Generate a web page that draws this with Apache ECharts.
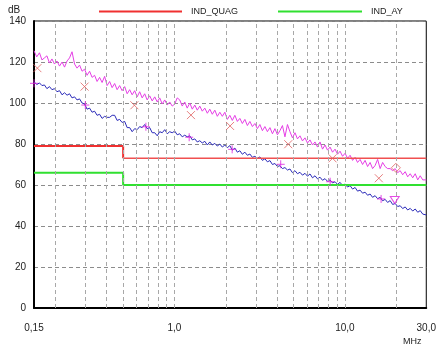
<!DOCTYPE html>
<html>
<head>
<meta charset="utf-8">
<script src="https://cdn.jsdelivr.net/npm/echarts@6/dist/echarts.min.js"></script>
<style>
  html, body { margin: 0; padding: 0; background: #fff; }
  #main { width: 439px; height: 345px; }
</style>
</head>
<body>
<div id="main"></div>
<script>
// sweep frequencies in MHz
const freqs = [
  0.15, 0.1556, 0.1615, 0.167, 0.1727, 0.1786, 0.1849, 0.1912, 0.1978, 0.2046,
  0.2118, 0.2191, 0.2266, 0.2344, 0.2424, 0.2507, 0.2594, 0.2683, 0.2776, 0.2871,
  0.297, 0.3072, 0.3178, 0.3287, 0.34, 0.3517, 0.3638, 0.3763, 0.3893, 0.4027,
  0.4166, 0.4309, 0.4457, 0.461, 0.4769, 0.4933, 0.5104, 0.5279, 0.5461, 0.5648,
  0.5843, 0.6043, 0.6252, 0.6466, 0.669, 0.6919, 0.7158, 0.7404, 0.766, 0.7923,
  0.8196, 0.8477, 0.877, 0.9071, 0.938, 0.9702, 1.004, 1.038, 1.074, 1.111,
  1.149, 1.188, 1.23, 1.272, 1.316, 1.361, 1.408, 1.456, 1.507, 1.559,
  1.612, 1.667, 1.725, 1.784, 1.846, 1.909, 1.975, 2.043, 2.113, 2.185,
  2.261, 2.339, 2.419, 2.502, 2.589, 2.678, 2.77, 2.865, 2.964, 3.066,
  3.171, 3.28, 3.393, 3.509, 3.631, 3.756, 3.885, 4.018, 4.157, 4.3,
  4.448, 4.601, 4.759, 4.922, 5.093, 5.268, 5.449, 5.636, 5.831, 6.031,
  6.239, 6.453, 6.676, 6.905, 7.143, 7.388, 7.643, 7.905, 8.178, 8.458,
  8.751, 9.051, 9.363, 9.684, 10.02, 10.36, 10.72, 11.09, 11.47, 11.86,
  12.27, 12.69, 13.13, 13.58, 14.05, 14.53, 15.03, 15.55, 16.09, 16.64,
  17.21, 17.8, 18.42, 19.05, 19.71, 20.39, 21.09, 21.81, 22.57, 23.34,
  24.15, 24.98, 25.84, 26.73, 27.65, 28.6, 30.0
];

// peak trace (magenta), dB
const peakVals = [
  125.5, 122.5, 124.5, 121, 122, 123, 119.5, 121.5, 119, 120.5,
  118, 120, 117.5, 120.5, 122, 125, 119, 117, 118.5, 115.5,
  116.5, 113.5, 115.5, 112.5, 113.5, 110.5, 112.5, 110, 113, 108.5,
  110.5, 107.5, 109.5, 106.5, 108.5, 106, 108, 104.5, 106.5, 104,
  106, 103, 105.5, 102.5, 104.5, 101.5, 103.5, 101, 103, 100.5,
  102.5, 99.5, 101.5, 99, 100.5, 98.5, 99.5, 102.5, 101.5, 98.5,
  100.5, 97.5, 100, 97, 99, 96.5, 98.5, 96, 97.5, 95,
  97, 94.5, 96.5, 93.5, 95.5, 93.5, 95.5, 92, 94, 91.5,
  94, 91, 92.5, 90, 92, 89, 91, 88.5, 90, 87.5,
  89.5, 86.5, 88.5, 86, 88, 85, 87.5, 84.5, 86.5, 89,
  83.5, 89.5, 86, 83, 85.5, 82.5, 84, 81.5, 83, 80.5,
  82, 79.5, 81, 78.5, 81, 77.5, 79.5, 77, 78.5, 76,
  77.5, 75, 76.5, 74, 75.5, 73, 74.5, 72, 73.5, 71,
  72.5, 70, 72, 69, 71, 68, 69.5, 72.5, 68, 71,
  69, 68, 68, 67, 68, 66, 67, 65, 66.5, 64,
  65.5, 63.5, 65.5, 62.5, 64.5, 62.5, 62.5
];

// average trace (blue), dB
const avgVals = [
  110.4, 109, 109.8, 108.5, 108.8, 107, 108, 106.5, 107, 105.5,
  106, 104, 105, 103.8, 104.5, 102.5, 103, 101.5, 102, 100,
  99.5, 97, 97.5, 95.5, 96, 94, 94.5, 92.5, 93.5, 93,
  93, 94, 94, 91.5, 92, 90.5, 91, 88, 88, 86,
  87.5, 87, 88.5, 88, 89.5, 87.5, 88, 85.5, 85.5, 84,
  86, 85.5, 87, 85, 86, 85.5, 86.3, 84.5, 85, 83.5,
  84.3, 83.5, 84, 82, 82.5, 81, 81.6, 80.5, 81.3, 79.5,
  81, 79.5, 80.3, 79, 80, 78.5, 79.5, 78.2, 79.2, 77,
  78, 76, 76.7, 75, 76, 74.5, 75.1, 73.5, 74, 73,
  73.7, 72, 72.8, 71.3, 71.9, 70, 70.5, 69, 69.4, 68,
  68.5, 67.3, 67.8, 66, 67, 65.5, 66.2, 64.8, 65.7, 64.3,
  65.4, 63.5, 64.5, 63, 63.8, 62.3, 63.1, 61.8, 62.5, 61,
  61.6, 60.3, 61.3, 59.7, 60.5, 59, 59.7, 58, 58.8, 57,
  57.5, 56, 56.5, 55, 55.6, 54, 54.8, 53.3, 54, 52.3,
  53, 51.5, 52.4, 50.5, 51, 49.5, 49.9, 48.5, 49.3, 47.8,
  48.6, 47.3, 48.3, 46.7, 47.5, 45.8, 45.4
];

// limit lines
const quagFreqsA = [0.15, 0.5, 0.5];
const quagLimitA = [79, 79, 73];
const quagFreqsB = [0.5, 30];
const quagLimitB = [73, 73];
const ayFreqs = [0.15, 0.5, 0.5, 30];
const ayLimit = [66, 66, 60, 60];

// final measurements
const qpFreqs = [0.157, 0.297, 0.582, 1.25, 2.12, 4.65, 8.46, 15.8];
const qpVals = [117, 108, 98.9, 94.1, 88.8, 79.9, 73.0, 63.3];
const qpDiamond = [[19.9, 68.4]];
const avFreqs = [0.15, 0.3, 0.68, 1.22, 2.18, 4.2, 8.19, 16.3];
const avVals = [109.6, 99, 88.4, 83.3, 77.4, 70.1, 61.6, 53.2];
const avTriangle = [[19.6, 52.7]];

// vertical grid lines
const gridFreqs = [0.2, 0.3, 0.4, 0.5, 0.6, 0.7, 0.8, 0.9, 1, 2, 3, 4, 5, 6, 7, 8, 9, 10, 20];

const zip = (xs, ys) => xs.map((x, i) => [x, ys[i]]);
const font = 'Liberation Sans';

var chartDom = document.getElementById('main');
var myChart = echarts.init(chartDom);

var option = {
  animation: false,
  textStyle: { fontFamily: font },
  title: [
    { text: 'dB', left: 3, top: 0, textStyle: { fontSize: 10, fontWeight: 'normal', color: '#222', fontFamily: font } },
    { text: 'MHz', left: 398, top: 332, textStyle: { fontSize: 9, fontWeight: 'normal', color: '#222', fontFamily: font } }
  ],
  legend: [
    {
      data: ['IND_QUAG'], left: 94, top: 2, icon: 'rect', itemWidth: 83, itemHeight: 2,
      textStyle: { fontSize: 9, color: '#222', padding: [0, 0, 0, 4] }
    },
    {
      data: ['IND_AY'], left: 273, top: 2, icon: 'rect', itemWidth: 84, itemHeight: 2,
      textStyle: { fontSize: 9, color: '#222', padding: [0, 0, 0, 4] }
    }
  ],
  grid: {
    left: 34, right: 12, top: 21, bottom: 37,
    show: true, borderColor: '#000', borderWidth: 1
  },
  xAxis: {
    type: 'log',
    logBase: 10,
    min: 0.15,
    max: 30,
    axisLine: { lineStyle: { color: '#000', width: 2 } },
    axisTick: { show: false },
    splitLine: { show: false },
    axisLabel: {
      color: '#222', fontSize: 10, margin: 15,
      showMinLabel: true, showMaxLabel: true,
      formatter: v => (v < 1 ? v.toFixed(2) : v.toFixed(1)).replace('.', ',')
    }
  },
  yAxis: {
    type: 'value',
    min: 0,
    max: 140,
    interval: 20,
    axisLine: { show: true, lineStyle: { color: '#000', width: 2 } },
    axisTick: { show: false },
    axisLabel: { color: '#222', fontSize: 10, margin: 8 },
    splitLine: { lineStyle: { color: '#8c8c8c', type: [4, 3] } }
  },
  series: [
    {
      name: 'grid',
      type: 'line',
      data: [],
      silent: true,
      markLine: {
        silent: true,
        symbol: 'none',
        label: { show: false },
        lineStyle: { color: '#a8a8a8', type: [4, 3], width: 1 },
        data: gridFreqs.map(f => ({ xAxis: f }))
      }
    },
    {
      name: 'peak',
      type: 'line',
      data: zip(freqs, peakVals),
      showSymbol: false,
      lineStyle: { color: '#e53ee5', width: 1 },
      itemStyle: { color: '#e53ee5' }
    },
    {
      name: 'average',
      type: 'line',
      data: zip(freqs, avgVals),
      showSymbol: false,
      lineStyle: { color: '#2a2ab8', width: 1 },
      itemStyle: { color: '#2a2ab8' }
    },
    {
      name: 'IND_QUAG',
      type: 'line',
      data: zip(quagFreqsA, quagLimitA),
      showSymbol: false,
      lineStyle: { color: '#f03030', width: 2 },
      itemStyle: { color: '#f03030' }
    },
    {
      name: 'IND_QUAG',
      type: 'line',
      data: zip(quagFreqsB, quagLimitB),
      showSymbol: false,
      lineStyle: { color: '#f05050', width: 1.5 },
      itemStyle: { color: '#f03030' }
    },
    {
      name: 'IND_AY',
      type: 'line',
      data: zip(ayFreqs, ayLimit),
      showSymbol: false,
      lineStyle: { color: '#30e030', width: 2 },
      itemStyle: { color: '#30e030' }
    },
    {
      name: 'qp',
      type: 'scatter',
      data: zip(qpFreqs, qpVals),
      symbol: 'path://M0,0L10,10M10,0L0,10',
      symbolSize: 8,
      itemStyle: { color: 'transparent', borderColor: '#e06060', borderWidth: 1 },
      z: 5
    },
    {
      name: 'qpd',
      type: 'scatter',
      data: qpDiamond,
      symbol: 'diamond',
      symbolSize: [9, 9],
      itemStyle: { color: 'transparent', borderColor: '#e06060', borderWidth: 1 },
      z: 5
    },
    {
      name: 'av',
      type: 'scatter',
      data: zip(avFreqs, avVals),
      symbol: 'path://M5,0L5,10M0,5L10,5',
      symbolSize: 8,
      itemStyle: { color: 'transparent', borderColor: '#e020e0', borderWidth: 1 },
      z: 5
    },
    {
      name: 'avt',
      type: 'scatter',
      data: avTriangle,
      symbol: 'triangle',
      symbolRotate: 180,
      symbolSize: [9, 7],
      itemStyle: { color: 'transparent', borderColor: '#e020e0', borderWidth: 1 },
      z: 5
    }
  ]
};

option && myChart.setOption(option);
</script>
</body>
</html>
